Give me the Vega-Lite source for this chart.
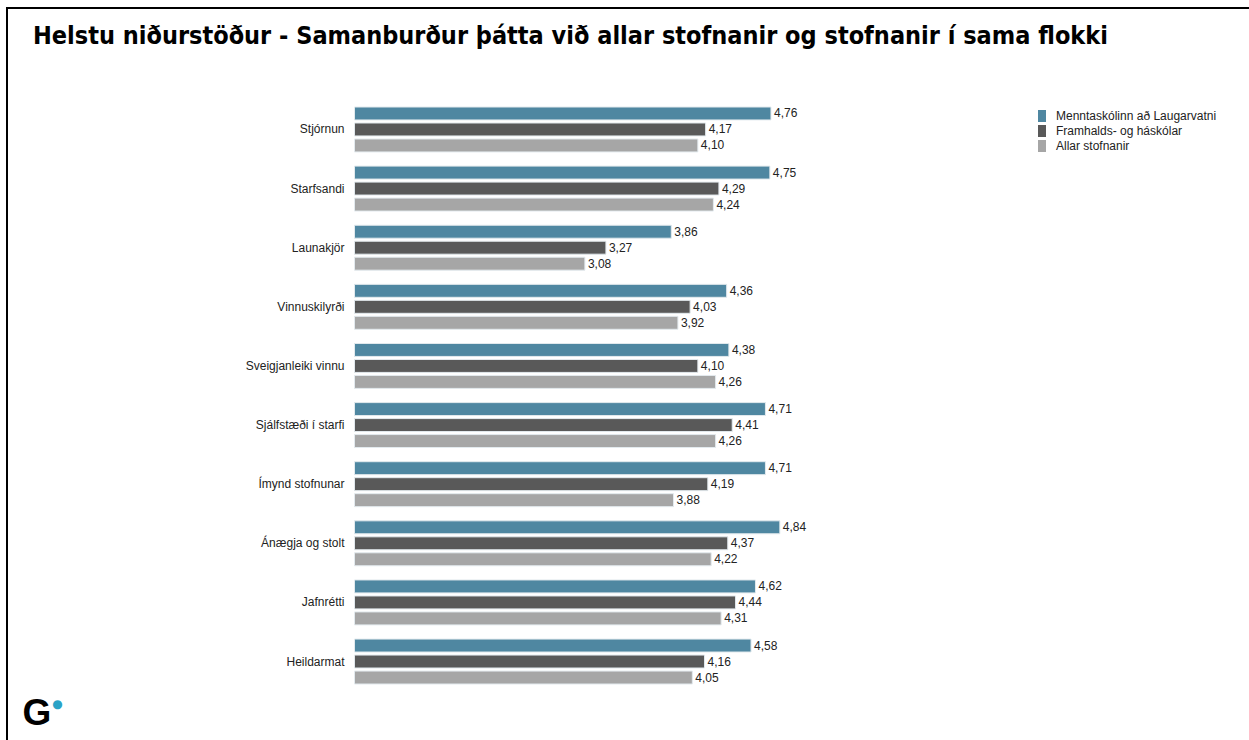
{
  "$schema": "https://vega.github.io/schema/vega-lite/v6.json",
  "width": 1300,
  "height": 774,
  "autosize": {"type": "none"},
  "padding": {"left": 7, "top": 8, "right": -58, "bottom": -42},
  "background": "white",
  "title": {
    "text": "Helstu niðurstöður - Samanburður þátta við allar stofnanir og stofnanir í sama flokki",
    "anchor": "start",
    "frame": "group",
    "offset": -61,
    "dx": 26,
    "baseline": "alphabetic",
    "font": "DejaVu Sans Condensed",
    "fontSize": 25,
    "fontWeight": "bold",
    "color": "#000000"
  },
  "data": {
    "values": [
      {"factor": "Stjórnun", "group": "Menntaskólinn að Laugarvatni", "value": 4.76},
      {"factor": "Stjórnun", "group": "Framhalds- og háskólar", "value": 4.17},
      {"factor": "Stjórnun", "group": "Allar stofnanir", "value": 4.10},
      {"factor": "Starfsandi", "group": "Menntaskólinn að Laugarvatni", "value": 4.75},
      {"factor": "Starfsandi", "group": "Framhalds- og háskólar", "value": 4.29},
      {"factor": "Starfsandi", "group": "Allar stofnanir", "value": 4.24},
      {"factor": "Launakjör", "group": "Menntaskólinn að Laugarvatni", "value": 3.86},
      {"factor": "Launakjör", "group": "Framhalds- og háskólar", "value": 3.27},
      {"factor": "Launakjör", "group": "Allar stofnanir", "value": 3.08},
      {"factor": "Vinnuskilyrði", "group": "Menntaskólinn að Laugarvatni", "value": 4.36},
      {"factor": "Vinnuskilyrði", "group": "Framhalds- og háskólar", "value": 4.03},
      {"factor": "Vinnuskilyrði", "group": "Allar stofnanir", "value": 3.92},
      {"factor": "Sveigjanleiki vinnu", "group": "Menntaskólinn að Laugarvatni", "value": 4.38},
      {"factor": "Sveigjanleiki vinnu", "group": "Framhalds- og háskólar", "value": 4.10},
      {"factor": "Sveigjanleiki vinnu", "group": "Allar stofnanir", "value": 4.26},
      {"factor": "Sjálfstæði í starfi", "group": "Menntaskólinn að Laugarvatni", "value": 4.71},
      {"factor": "Sjálfstæði í starfi", "group": "Framhalds- og háskólar", "value": 4.41},
      {"factor": "Sjálfstæði í starfi", "group": "Allar stofnanir", "value": 4.26},
      {"factor": "Ímynd stofnunar", "group": "Menntaskólinn að Laugarvatni", "value": 4.71},
      {"factor": "Ímynd stofnunar", "group": "Framhalds- og háskólar", "value": 4.19},
      {"factor": "Ímynd stofnunar", "group": "Allar stofnanir", "value": 3.88},
      {"factor": "Ánægja og stolt", "group": "Menntaskólinn að Laugarvatni", "value": 4.84},
      {"factor": "Ánægja og stolt", "group": "Framhalds- og háskólar", "value": 4.37},
      {"factor": "Ánægja og stolt", "group": "Allar stofnanir", "value": 4.22},
      {"factor": "Jafnrétti", "group": "Menntaskólinn að Laugarvatni", "value": 4.62},
      {"factor": "Jafnrétti", "group": "Framhalds- og háskólar", "value": 4.44},
      {"factor": "Jafnrétti", "group": "Allar stofnanir", "value": 4.31},
      {"factor": "Heildarmat", "group": "Menntaskólinn að Laugarvatni", "value": 4.58},
      {"factor": "Heildarmat", "group": "Framhalds- og háskólar", "value": 4.16},
      {"factor": "Heildarmat", "group": "Allar stofnanir", "value": 4.05}
    ]
  },
  "encoding": {
    "y": {
      "field": "factor",
      "type": "nominal",
      "sort": ["Stjórnun", "Starfsandi", "Launakjör", "Vinnuskilyrði", "Sveigjanleiki vinnu", "Sjálfstæði í starfi", "Ímynd stofnunar", "Ánægja og stolt", "Jafnrétti", "Heildarmat"],
      "scale": {"paddingInner": 0.24, "paddingOuter": 0, "range": [99, 676]},
      "axis": {
        "title": "●",
        "titleX": -295,
        "titleY": 695,
        "titleAngle": 0,
        "titleAlign": "center",
        "titleBaseline": "middle",
        "titleFont": "DejaVu Sans",
        "titleFontSize": 12,
        "titleFontWeight": "normal",
        "titleColor": "#2ba3c6",
        "offset": -345,
        "domain": false,
        "ticks": false,
        "grid": false,
        "labelPadding": 8,
        "labelFont": "Liberation Sans",
        "labelFontSize": 12,
        "labelColor": "#222222"
      }
    },
    "yOffset": {
      "field": "group",
      "type": "nominal",
      "sort": ["Menntaskólinn að Laugarvatni", "Framhalds- og háskólar", "Allar stofnanir"],
      "scale": {"paddingInner": 0.19, "paddingOuter": 0}
    }
  },
  "layer": [
    {
      "mark": {"type": "bar", "stroke": "#e3eaee", "strokeWidth": 1},
      "encoding": {
        "x": {
          "field": "value",
          "type": "quantitative",
          "scale": {"domain": [-2.137, 9.599], "nice": false, "zero": false},
          "axis": {
            "title": "G",
            "labels": false,
            "ticks": false,
            "domain": false,
            "grid": false,
            "titleX": 15,
            "titleY": -58,
            "titleAlign": "left",
            "titleAnchor": "start",
            "titleBaseline": "alphabetic",
            "titleFont": "Liberation Sans",
            "titleFontSize": 37,
            "titleFontWeight": "bold",
            "titleColor": "#000000"
          }
        },
        "x2": {"datum": 1},
        "color": {
          "field": "group",
          "type": "nominal",
          "sort": ["Menntaskólinn að Laugarvatni", "Framhalds- og háskólar", "Allar stofnanir"],
          "scale": {"domain": ["Menntaskólinn að Laugarvatni", "Framhalds- og háskólar", "Allar stofnanir"], "range": ["#4f87a1", "#595959", "#a6a6a6"]},
          "legend": {
            "title": null,
            "orient": "none",
            "legendX": 1029,
            "legendY": 102,
            "padding": 0,
            "symbolType": "M-0.67,-1H0.67V1H-0.67Z",
            "symbolSize": 144,
            "symbolStrokeWidth": 0,
            "labelOffset": 8,
            "labelLimit": 0,
            "labelFont": "Liberation Sans",
            "labelFontSize": 12,
            "labelColor": "#222222",
            "rowPadding": 3
          }
        }
      }
    },
    {
      "mark": {"type": "text", "align": "left", "dx": 3, "baseline": "middle", "font": "Liberation Sans", "fontSize": 12, "color": "#222222"},
      "encoding": {
        "x": {"field": "value", "type": "quantitative"},
        "text": {"field": "value", "type": "quantitative", "format": ".2f"}
      }
    }
  ],
  "config": {
    "view": {"stroke": "#000000", "strokeWidth": 2},
    "locale": {
      "number": {"decimal": ",", "thousands": ".", "grouping": [3], "currency": ["", " kr."]}
    }
  }
}
